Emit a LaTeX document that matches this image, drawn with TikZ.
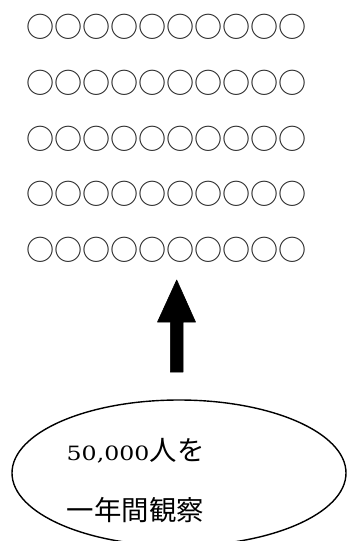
\documentclass[tikz,border=0pt]{standalone}
\usepackage{fontspec}
\newfontfamily\cjk{Noto Sans CJK JP}
\newfontfamily\digitfam[Scale=1.97,FakeStretch=1.2]{DejaVu Serif}
\usetikzlibrary{shapes.geometric}
\begin{document}
\begin{tikzpicture}[x=1pt,y=1pt,
  circrow/.style={inner sep=0pt, anchor=center, text=black!85,
    font=\cjk\fontsize{28.1pt}{30pt}\selectfont},
  oval/.style={ellipse, draw=black, line width=1.4pt, inner sep=0pt,
    minimum width=334pt, minimum height=146pt},
  textline/.style={inner sep=0pt, anchor=base west, text=black},
  numtext/.style={textline, font=\normalsize\digitfam},
  kanji/.style={textline, font=\cjk\fontsize{27.4pt}{30pt}\selectfont},
  blockarrow/.style={fill=black, draw=black, line width=0.6pt, line join=round}]
\useasboundingbox (0,0) rectangle (347,-541);
\foreach \r/\y in {1/26.7, 2/82.7, 3/138.7, 4/193.7, 5/249.7}{
  \node[circrow] (row\r) at (166.5,-\y) {○○○○○○○○○○};
}
\node[oval] (src) at (179,-473) {};
\node[numtext] (l1a) at (66.5,-460.7) {50,000};
\node[kanji] (l1b) at (l1a.base east) {人を};
\node[kanji] (l2) at (66.7,-520) {一年間観察};
\draw[blockarrow] (170.3,-372) -- (170.3,-322) -- (157.5,-322) -- (176.7,-280)
  -- (195.5,-322) -- (183.1,-322) -- (183.1,-372) -- cycle;
\end{tikzpicture}
\end{document}
